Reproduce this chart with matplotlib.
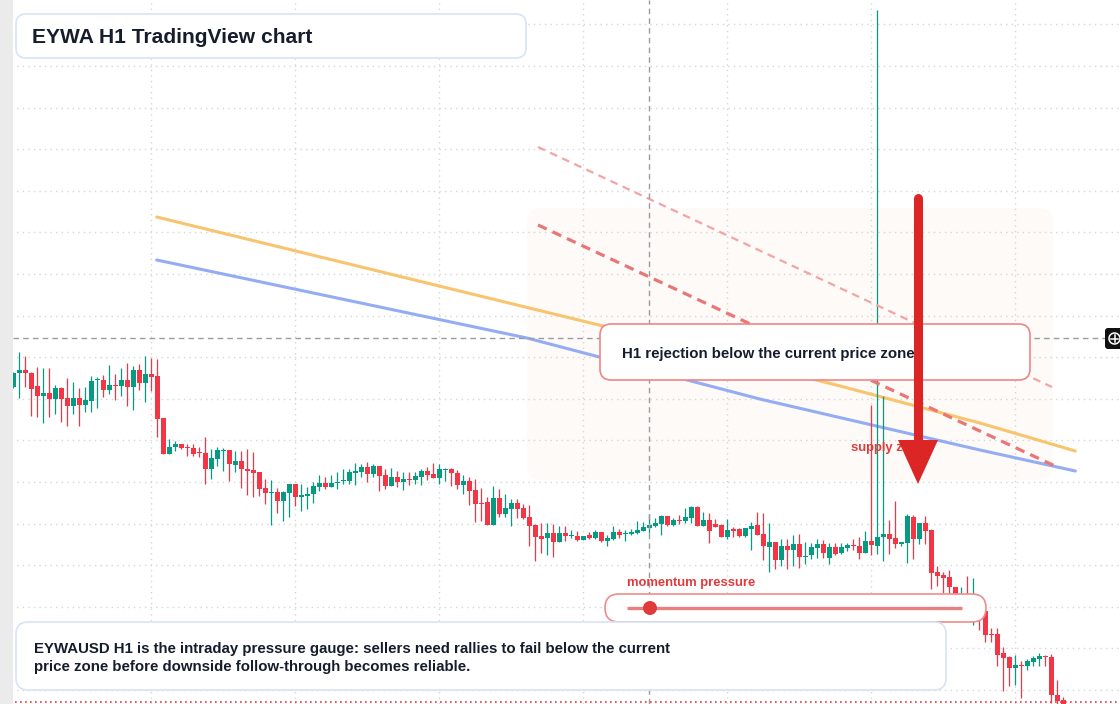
import numpy as np
import matplotlib
matplotlib.use("Agg")
import matplotlib.pyplot as plt
from matplotlib.patches import FancyBboxPatch, Polygon, Circle

# ------------------------- Data (EYWA H1 candles) -------------------------
opens = [
    0.0817, 0.0831, 0.0834, 0.0831, 0.0818, 0.0808, 0.0811, 0.0805, 0.0816, 0.0806,
    0.0798, 0.0806, 0.0799, 0.0803, 0.0824, 0.0824, 0.0814, 0.0819, 0.0818, 0.0824,
    0.0817, 0.0834, 0.0821, 0.0830, 0.0828, 0.0786, 0.0750, 0.0757, 0.0760, 0.0757,
    0.0756, 0.0752, 0.0751, 0.0735, 0.0745, 0.0753, 0.0754, 0.0739, 0.0743, 0.0735,
    0.0734, 0.0732, 0.0716, 0.0711, 0.0712, 0.0703, 0.0711, 0.0720, 0.0707, 0.0708,
    0.0710, 0.0717, 0.0721, 0.0717, 0.0721, 0.0723, 0.0723, 0.0731, 0.0732, 0.0737,
    0.0730, 0.0738, 0.0729, 0.0718, 0.0727, 0.0722, 0.0725, 0.0724, 0.0727, 0.0733,
    0.0730, 0.0726, 0.0734, 0.0735, 0.0731, 0.0719, 0.0723, 0.0714, 0.0701, 0.0702,
    0.0679, 0.0706, 0.0690, 0.0695, 0.0701, 0.0696, 0.0687, 0.0679, 0.0668, 0.0666,
    0.0671, 0.0662, 0.0671, 0.0668, 0.0668, 0.0664, 0.0669, 0.0666, 0.0672, 0.0663,
    0.0665, 0.0672, 0.0670, 0.0670, 0.0671, 0.0673, 0.0676, 0.0678, 0.0680, 0.0688,
    0.0679, 0.0684, 0.0683, 0.0686, 0.0697, 0.0678, 0.0684, 0.0680, 0.0679, 0.0667,
    0.0675, 0.0675, 0.0668, 0.0675, 0.0679, 0.0670, 0.0657, 0.0662, 0.0644, 0.0658,
    0.0654, 0.0660, 0.0647, 0.0649, 0.0656, 0.0660, 0.0646, 0.0657, 0.0651, 0.0656,
    0.0659, 0.0658, 0.0651, 0.0663, 0.0658, 0.0667, 0.0670, 0.0666, 0.0660, 0.0661,
    0.0687, 0.0665, 0.0681, 0.0674, 0.0632, 0.0629, 0.0627, 0.0617, 0.0600, 0.0601,
    0.0591, 0.0595, 0.0593, 0.0570, 0.0570, 0.0551, 0.0547, 0.0536, 0.0539, 0.0538,
    0.0542, 0.0545, 0.0548, 0.0547, 0.0509, 0.0504,
]
highs = [
    0.0832, 0.0852, 0.0848, 0.0832, 0.0837, 0.0836, 0.0836, 0.0819, 0.0817, 0.0826,
    0.0822, 0.0816, 0.0817, 0.0828, 0.0827, 0.0829, 0.0839, 0.0830, 0.0836, 0.0841,
    0.0838, 0.0840, 0.0848, 0.0846, 0.0845, 0.0786, 0.0765, 0.0763, 0.0760, 0.0760,
    0.0760, 0.0757, 0.0767, 0.0755, 0.0757, 0.0756, 0.0754, 0.0753, 0.0753, 0.0755,
    0.0752, 0.0732, 0.0725, 0.0724, 0.0716, 0.0713, 0.0720, 0.0720, 0.0720, 0.0717,
    0.0722, 0.0729, 0.0727, 0.0729, 0.0732, 0.0735, 0.0735, 0.0741, 0.0740, 0.0742,
    0.0740, 0.0738, 0.0735, 0.0736, 0.0733, 0.0732, 0.0732, 0.0732, 0.0735, 0.0737,
    0.0741, 0.0740, 0.0736, 0.0736, 0.0734, 0.0729, 0.0727, 0.0725, 0.0716, 0.0707,
    0.0718, 0.0715, 0.0710, 0.0705, 0.0705, 0.0700, 0.0699, 0.0680, 0.0681, 0.0681,
    0.0680, 0.0678, 0.0678, 0.0674, 0.0673, 0.0668, 0.0672, 0.0674, 0.0672, 0.0669,
    0.0678, 0.0675, 0.0674, 0.0675, 0.0683, 0.0682, 0.0690, 0.0686, 0.0689, 0.0688,
    0.0686, 0.0689, 0.0696, 0.0698, 0.0698, 0.0692, 0.0691, 0.0685, 0.0680, 0.0685,
    0.0677, 0.0676, 0.0676, 0.0682, 0.0692, 0.0691, 0.0681, 0.0662, 0.0665, 0.0665,
    0.0669, 0.0670, 0.0662, 0.0661, 0.0665, 0.0664, 0.0661, 0.0661, 0.0661, 0.0661,
    0.0665, 0.0667, 0.0673, 0.0799, 0.1194, 0.0808, 0.0684, 0.0703, 0.0662, 0.0690,
    0.0689, 0.0681, 0.0688, 0.0675, 0.0638, 0.0632, 0.0634, 0.0617, 0.0617, 0.0628,
    0.0626, 0.0599, 0.0593, 0.0576, 0.0576, 0.0557, 0.0548, 0.0549, 0.0543, 0.0545,
    0.0548, 0.0551, 0.0549, 0.0550, 0.0524, 0.0507,
]
lows = [
    0.0816, 0.0806, 0.0817, 0.0788, 0.0787, 0.0781, 0.0787, 0.0790, 0.0782, 0.0778,
    0.0790, 0.0778, 0.0792, 0.0792, 0.0796, 0.0807, 0.0810, 0.0804, 0.0808, 0.0798,
    0.0794, 0.0814, 0.0802, 0.0813, 0.0767, 0.0750, 0.0750, 0.0753, 0.0755, 0.0748,
    0.0748, 0.0747, 0.0720, 0.0725, 0.0738, 0.0733, 0.0723, 0.0732, 0.0716, 0.0709,
    0.0707, 0.0708, 0.0700, 0.0679, 0.0691, 0.0683, 0.0687, 0.0698, 0.0693, 0.0695,
    0.0701, 0.0713, 0.0715, 0.0717, 0.0715, 0.0720, 0.0720, 0.0719, 0.0727, 0.0722,
    0.0727, 0.0713, 0.0715, 0.0718, 0.0717, 0.0714, 0.0719, 0.0720, 0.0719, 0.0724,
    0.0726, 0.0720, 0.0723, 0.0718, 0.0715, 0.0710, 0.0699, 0.0682, 0.0683, 0.0679,
    0.0679, 0.0687, 0.0687, 0.0678, 0.0686, 0.0685, 0.0658, 0.0643, 0.0651, 0.0649,
    0.0647, 0.0662, 0.0663, 0.0666, 0.0663, 0.0664, 0.0665, 0.0665, 0.0662, 0.0658,
    0.0664, 0.0666, 0.0663, 0.0669, 0.0670, 0.0673, 0.0671, 0.0677, 0.0669, 0.0678,
    0.0678, 0.0680, 0.0681, 0.0681, 0.0678, 0.0678, 0.0661, 0.0677, 0.0667, 0.0665,
    0.0667, 0.0667, 0.0667, 0.0654, 0.0669, 0.0644, 0.0632, 0.0635, 0.0638, 0.0635,
    0.0638, 0.0636, 0.0640, 0.0645, 0.0646, 0.0646, 0.0640, 0.0649, 0.0650, 0.0653,
    0.0654, 0.0645, 0.0651, 0.0649, 0.0650, 0.0643, 0.0650, 0.0656, 0.0658, 0.0641,
    0.0645, 0.0660, 0.0660, 0.0615, 0.0618, 0.0611, 0.0608, 0.0589, 0.0587, 0.0585,
    0.0579, 0.0574, 0.0562, 0.0562, 0.0538, 0.0513, 0.0518, 0.0519, 0.0506, 0.0534,
    0.0538, 0.0538, 0.0538, 0.0501, 0.0500, 0.0496,
]
closes = [
    0.0831, 0.0834, 0.0831, 0.0815, 0.0808, 0.0811, 0.0805, 0.0816, 0.0805, 0.0798,
    0.0806, 0.0799, 0.0804, 0.0823, 0.0825, 0.0814, 0.0819, 0.0818, 0.0824, 0.0817,
    0.0834, 0.0821, 0.0830, 0.0827, 0.0785, 0.0750, 0.0757, 0.0760, 0.0756, 0.0756,
    0.0750, 0.0751, 0.0735, 0.0746, 0.0754, 0.0754, 0.0740, 0.0743, 0.0735, 0.0733,
    0.0731, 0.0715, 0.0711, 0.0712, 0.0703, 0.0712, 0.0720, 0.0707, 0.0709, 0.0710,
    0.0718, 0.0721, 0.0717, 0.0721, 0.0722, 0.0724, 0.0732, 0.0733, 0.0737, 0.0730,
    0.0738, 0.0728, 0.0718, 0.0727, 0.0722, 0.0725, 0.0724, 0.0728, 0.0733, 0.0729,
    0.0726, 0.0735, 0.0735, 0.0731, 0.0719, 0.0723, 0.0713, 0.0700, 0.0700, 0.0679,
    0.0706, 0.0690, 0.0696, 0.0701, 0.0695, 0.0686, 0.0678, 0.0667, 0.0665, 0.0671,
    0.0662, 0.0671, 0.0668, 0.0669, 0.0664, 0.0668, 0.0666, 0.0672, 0.0663, 0.0666,
    0.0672, 0.0669, 0.0671, 0.0672, 0.0674, 0.0677, 0.0679, 0.0681, 0.0688, 0.0679,
    0.0684, 0.0683, 0.0687, 0.0697, 0.0678, 0.0684, 0.0673, 0.0677, 0.0667, 0.0674,
    0.0673, 0.0668, 0.0676, 0.0678, 0.0669, 0.0658, 0.0662, 0.0644, 0.0658, 0.0654,
    0.0660, 0.0647, 0.0648, 0.0657, 0.0660, 0.0651, 0.0657, 0.0650, 0.0657, 0.0659,
    0.0658, 0.0651, 0.0663, 0.0659, 0.0667, 0.0670, 0.0665, 0.0660, 0.0662, 0.0688,
    0.0665, 0.0681, 0.0673, 0.0631, 0.0628, 0.0626, 0.0617, 0.0600, 0.0601, 0.0591,
    0.0597, 0.0593, 0.0569, 0.0569, 0.0549, 0.0546, 0.0536, 0.0539, 0.0538, 0.0543,
    0.0546, 0.0548, 0.0547, 0.0509, 0.0503, 0.0498,
]

# moving averages (at a few bars)
ma_fast_bars = [23.9, 97.6, 137.8, 161.1, 177.0]
ma_fast_vals = [0.0987, 0.0879, 0.0818, 0.0781, 0.0753]
ma_slow_bars = [23.9, 85.6, 124.4, 161.1, 177.0]
ma_slow_vals = [0.0944, 0.0866, 0.0805, 0.0754, 0.0733]

# drawn resistance lines (bars, prices)
res_main = ([87.45, 173.6], [0.0979, 0.0738])
res_outer = ([87.45, 173.1], [0.1057, 0.0817])

# supply zone box
zone_bars = (85.6, 173.3)
zone_prices = (0.0724, 0.0996)

cursor_bar = 106
cursor_price = 0.0866
last_price = 0.0502

title = 'EYWA H1 TradingView chart'
note_lines = ['EYWAUSD H1 is the intraday pressure gauge: sellers need rallies to fail below the current',
              'price zone before downside follow-through becomes reliable.']
callout = 'H1 rejection below the current price zone'

# ------------------------- Colors -------------------------
UP = '#089981'
DOWN = '#f23645'
INK = '#151c2c'
FONT = ['Liberation Sans', 'DejaVu Sans']

fig = plt.figure(figsize=(11.2, 7.04), dpi=100)
ax = fig.add_axes([0, 0, 1, 1])

# 6 px per bar, 0.0001 per px
ax.set_xlim(-2.217, 184.45)
ax.set_ylim(0.0500, 0.1204)
ax.set_xticks(np.arange(-1, 184, 24))
ax.set_yticks(0.0514 + 0.00416 * np.arange(17))
ax.grid(True, color='#d6d6d6', linestyle=(0, (1, 3)), linewidth=1.0)
ax.set_axisbelow(True)
ax.tick_params(length=0, labelleft=False, labelbottom=False)
for s in ax.spines.values():
    s.set_visible(False)

# zone
zone = FancyBboxPatch((zone_bars[0], zone_prices[0]), zone_bars[1] - zone_bars[0],
                      zone_prices[1] - zone_prices[0],
                      boxstyle='round,pad=0,rounding_size=2.5', mutation_aspect=0.0006,
                      fc='#fdfaf7', ec='none', zorder=0.5)
ax.add_patch(zone)

# moving averages
ax.plot(ma_fast_bars, ma_fast_vals, color='#f8c46d', lw=2.2, zorder=2, solid_capstyle='round')
ax.plot(ma_slow_bars, ma_slow_vals, color='#93acf4', lw=2.2, zorder=2, solid_capstyle='round')

# candles
idx = np.arange(len(opens))
o = np.array(opens)
c = np.array(closes)
colors = np.where(c >= o, UP, DOWN)
ax.vlines(idx, lows, highs, colors=colors, linewidth=0.9, zorder=3)
body_bottom = np.minimum(o, c)
body_h = np.maximum(np.abs(c - o), 0.00012)
ax.bar(idx, body_h, bottom=body_bottom, width=0.75, color=colors, linewidth=0, zorder=3)

# resistance lines
ax.plot(*res_outer, color='#f3a4a4', lw=1.6, dashes=(3.5, 2.5), zorder=4)
ax.plot(*res_main, color='#e97676', lw=2.3, dashes=(3, 2), zorder=4)

# crosshair + last price
ax.axvline(cursor_bar, color='#9c9c9c', lw=1, ls=(0, (4, 3)), zorder=5)
ax.hlines(cursor_price, -0.05, 181.95, color='#9c9c9c', lw=1, ls=(0, (4, 3)), zorder=5)
ax.axhline(last_price, color=DOWN, lw=1.2, ls=(0, (1, 2)), zorder=5)

# ------------------------- Overlay (pixel space) -------------------------
ov = fig.add_axes([0, 0, 1, 1], zorder=10)
ov.set_xlim(0, 1120)
ov.set_ylim(704, 0)
ov.axis('off')
ov.patch.set_alpha(0)


def rbox(x0, y0, x1, y1, r, fc, ec, lw=1.0, alpha=1.0, z=10):
    p = FancyBboxPatch((x0, y0), x1 - x0, y1 - y0, boxstyle=f'round,pad=0,rounding_size={r}',
                       fc=fc, ec=ec, lw=lw, alpha=alpha, zorder=z)
    ov.add_patch(p)
    return p


# left price-scale strip
ov.add_patch(plt.Rectangle((0, 0), 13, 704, fc='#ebebeb', ec='none', zorder=9))

# title
rbox(16, 14, 526, 58, 10, 'white', '#d7e3f6', lw=1.2)
ov.text(32, 37.5, title, fontsize=15.1, fontweight='bold', color=INK,
        family=FONT, va='center', ha='left', zorder=11)

# callout
rbox(600, 324, 1030, 380, 11, 'white', '#ef8585', lw=1.2)
ov.text(622, 354, callout, fontsize=10.85, fontweight='bold', color=INK,
        family=FONT, va='center', ha='left', zorder=11)

# supply zone label + arrow
ov.text(851, 448, 'supply zone', fontsize=9.4, fontweight='bold', color='#e23a3a',
        family=FONT, va='center', ha='left', zorder=11)
ov.plot([918, 918], [198, 442], color='#dc2626', lw=6.5, solid_capstyle='round', zorder=12)
ov.add_patch(Polygon([[898, 440], [938, 440], [918, 484]], closed=True, fc='#dc2626', ec='none', zorder=12))

# momentum gauge
ov.text(627, 583, 'momentum pressure', fontsize=9.4, fontweight='bold', color='#e23a3a',
        family=FONT, va='center', ha='left', zorder=11)
rbox(605, 594, 986, 622, 14, (1, 1, 1, 0.78), '#f08c8c', lw=1.2)
ov.plot([627, 962], [608, 608], color='#e98080', lw=2.4, zorder=11, solid_capstyle='butt')
ov.add_patch(Circle((650, 608), 7, fc='#e03a3a', ec='none', zorder=12))

# bottom note
rbox(16, 622, 946, 690, 12, 'white', '#d7e3f6', lw=1.2)
ov.text(34, 648.5, note_lines[0], fontsize=10.85, fontweight='bold', color=INK,
        family=FONT, va='center', ha='left', zorder=11)
ov.text(34, 667.5, note_lines[1], fontsize=10.85, fontweight='bold', color=INK,
        family=FONT, va='center', ha='left', zorder=11)

# crosshair price marker
rbox(1105, 328, 1124, 349, 3, '#111111', 'none', z=12)
ov.add_patch(Circle((1114.5, 338.5), 5.5, fc='none', ec='white', lw=1.1, zorder=13))
ov.plot([1111, 1118], [338.5, 338.5], color='white', lw=1.1, zorder=13)
ov.plot([1114.5, 1114.5], [335, 342], color='white', lw=1.1, zorder=13)

fig.savefig('out.png', dpi=100)
